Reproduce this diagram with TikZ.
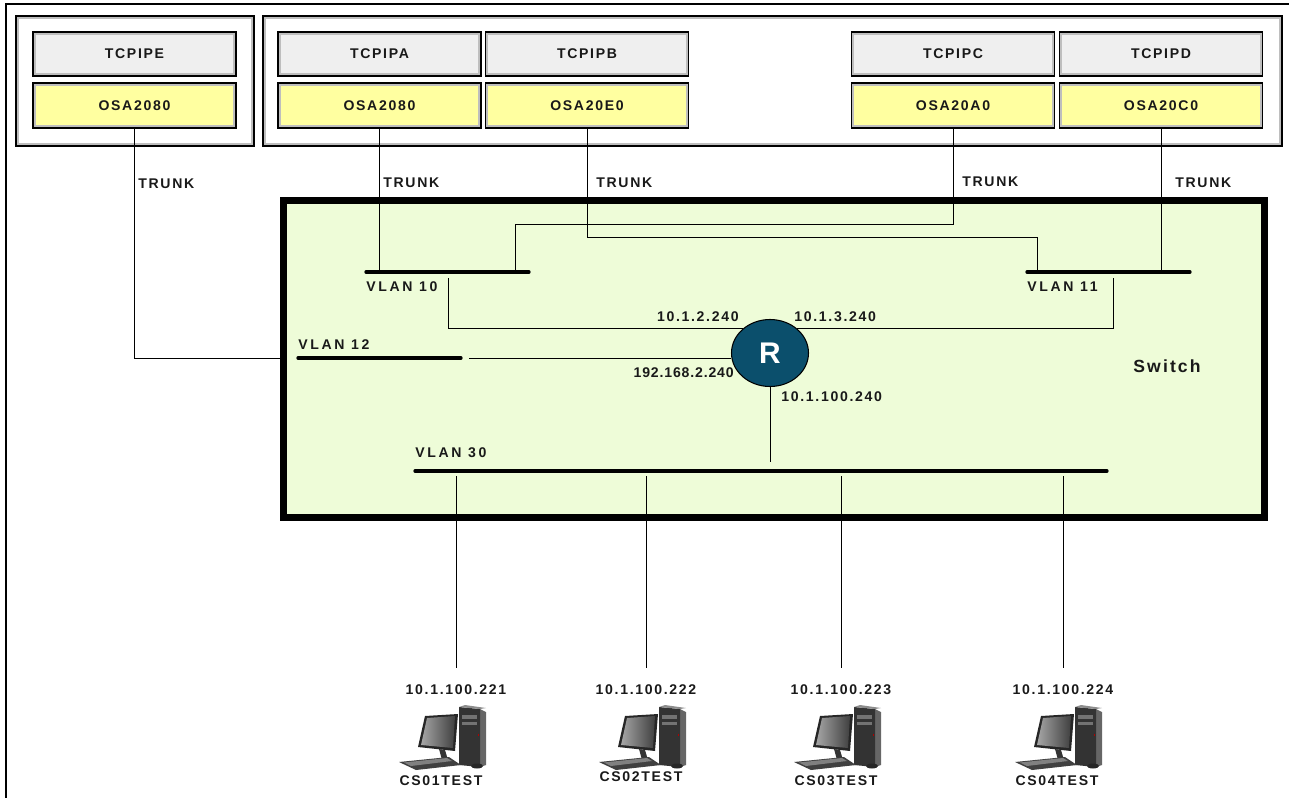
\documentclass[tikz,border=0pt]{standalone}
\usepackage{fontspec}
\newfontfamily\lblfont[LetterSpace=12]{Liberation Sans}
\newfontfamily\bigfont{Liberation Sans}
\usetikzlibrary{shapes.geometric}

\definecolor{osayellow}{RGB}{255,255,160}
\definecolor{stackgray}{RGB}{239,239,239}
\definecolor{switchgreen}{RGB}{238,252,216}
\definecolor{routerblue}{RGB}{11,79,108}
\definecolor{bevel}{RGB}{190,190,190}

\newcommand\pxu{0.02cm}

\tikzset{
  lbl/.style={font=\lblfont\bfseries\fontsize{8}{9}\selectfont, inner sep=0pt, text=black!90},
  wide/.style={font=\lblfont\bfseries\fontsize{8}{9}\selectfont\addfontfeature{LetterSpace=19}},
  tight/.style={font=\lblfont\bfseries\fontsize{8}{9}\selectfont\addfontfeature{LetterSpace=6}},
  bevelbox/.style={rectangle, draw=black, line width=0.9pt,
    path picture={\draw[bevel, line width=3pt] (path picture bounding box.south west) rectangle (path picture bounding box.north east);}},
  lpar/.style={bevelbox, fill=white, minimum height=130*\pxu},
  stack/.style={bevelbox, lbl, fill=stackgray, minimum width=203*\pxu, minimum height=44*\pxu},
  osa/.style={bevelbox, lbl, fill=osayellow, minimum width=203*\pxu, minimum height=45*\pxu},
  switchbox/.style={draw=black, line width=4pt, fill=switchgreen},
  router/.style={ellipse, draw=black, line width=0.6pt, fill=routerblue, inner sep=0pt,
    minimum width=77*\pxu, minimum height=67*\pxu, text=white,
    font=\bigfont\bfseries\fontsize{17}{17}\selectfont},
  wire/.style={line width=0.55pt},
  vlanbar/.style={line width=1.9pt, line cap=round},
  computer/.pic={
    % tower
    \fill[black!60] (38,-29) -- (44,-26) -- (44,27) -- (38,29) -- cycle;
    \fill[black!80] (17,-31) -- (38,-29) -- (38,29) -- (17,27) -- cycle;
    \fill[black!45] (17,-31) -- (23,-33) -- (44,-30) -- (38,-29) -- cycle;
    \fill[black!55] (20,-23) rectangle (35,-19);
    \fill[black!55] (20,-16) rectangle (35,-13);
    \fill[red!70!black] (36,-4) rectangle (37,-2);
    % monitor
    \fill[black!85] (-17,-22) -- (16,-24) -- (13,13) -- (-24,9) -- cycle;
    \shade[left color=black!35, right color=black!75] (-15,-20) -- (13,-22) -- (11,10) -- (-21,7) -- cycle;
    \fill[black!80] (-3,11) -- (3,12) -- (6,22) -- (0,22) -- cycle;
    % keyboard and mouse
    \fill[black!75] (-43,24) -- (7,19) -- (19,27) -- (-26,32) -- cycle;
    \fill[black!50] (-38,24.5) -- (5,20) -- (10,23) -- (-31,28) -- cycle;
    \fill[black!85] (35,28) ellipse [x radius=6, y radius=2.5];
  }
}

\begin{document}
\begin{tikzpicture}[x=0.02cm, y=-0.02cm]
\useasboundingbox (0,0) rectangle (1289,798);
\draw[line width=0.7pt] (6,798) -- (6,4) -- (1289,4);

% LPARs with their stacks and OSA ports
\node[lpar, minimum width=238*\pxu] (lparE) at (135,81) {};
\node[lpar, minimum width=1019*\pxu] (lparAD) at (772.5,81) {};
\foreach \s/\x/\dev in {E/134.5/OSA2080, A/379.5/OSA2080, B/587/OSA20E0, C/953/OSA20A0, D/1161/OSA20C0} {
  \node[stack] (tcp\s) at (\x,54) {TCPIP\s};
  \node[osa] (osa\s) at (\x,105.5) {\dev};
}

% switch
\node[switchbox, minimum width=981*\pxu, minimum height=317*\pxu] (switch) at (774,359) {};
\node[lbl, font=\lblfont\bfseries\fontsize{10}{12}\selectfont] (swname) at (1167,366) {Switch};

% VLANs
\coordinate (v10a) at (366,272); \coordinate (v10b) at (529,272);
\coordinate (v11a) at (1027,272); \coordinate (v11b) at (1190,272);
\coordinate (v12a) at (298,358); \coordinate (v12b) at (461,358);
\coordinate (v30a) at (415,471); \coordinate (v30b) at (1107,471);
\draw[vlanbar] (v10a) -- (v10b);
\draw[vlanbar] (v11a) -- (v11b);
\draw[vlanbar] (v12a) -- (v12b);
\draw[vlanbar] (v30a) -- (v30b);
\node[lbl, wide, anchor=west] (vl10) at (366,287) {VLAN 10};
\node[lbl, wide, anchor=west] (vl11) at (1027,287) {VLAN 11};
\node[lbl, wide, anchor=west] (vl12) at (298,345) {VLAN 12};
\node[lbl, wide, anchor=west] (vl30) at (415,453) {VLAN 30};

% trunks
\coordinate (t10) at (515,224);
\coordinate (t11) at (1037,237);
\draw[wire] (osaE.south) |- (switch.west |- v12a);
\draw[wire] (osaA.south) -- (osaA.south |- v10a);
\draw[wire] (osaC.south) |- (t10) -- (t10 |- v10a);
\draw[wire] (osaB.south) |- (t11) -- (t11 |- v11a);
\draw[wire] (osaD.south) -- (osaD.south |- v11a);
\foreach \s/\x/\y in {E/138/184, A/383/183, B/596/183, C/962/182, D/1175/183}
  \node[lbl, anchor=west] (trunk\s) at (\x,\y) {TRUNK};

% router
\node[router] (r) at (770,353) {R};
\coordinate (g10) at (448,278);
\coordinate (g11) at (1113,278);
\coordinate (g12) at (469,358);
\coordinate (g30) at (770,462);
\draw[wire] (g10) |- (r.138);
\draw[wire] (r.42) -| (g11);
\draw[wire] (g12) -- (g12 -| r.west);
\draw[wire] (r.south) -- (g30);
\node[lbl, anchor=east] (ip10) at (739,317) {10.1.2.240};
\node[lbl, anchor=west] (ip11) at (794,317) {10.1.3.240};
\node[lbl, tight, anchor=east] (ip12) at (734,373) {192.168.2.240};
\node[lbl, anchor=west] (ip30) at (781,397) {10.1.100.240};

% hosts on VLAN 30
\foreach \n/\x/\cx/\cy in {1/456/441/781, 2/646/641/777, 3/841/836/781, 4/1063/1057/781} {
  \coordinate (tap\n) at (\x,476);
  \coordinate (end\n) at (\x,668);
  \draw[wire] (tap\n) -- (end\n);
  \node[lbl] (hip\n) at (\x,690) {10.1.100.22\n};
  \pic at (\cx+1,738) {computer};
  \node[lbl] (host\n) at (\cx,\cy) {CS0\n TEST};
}
\end{tikzpicture}
\end{document}
